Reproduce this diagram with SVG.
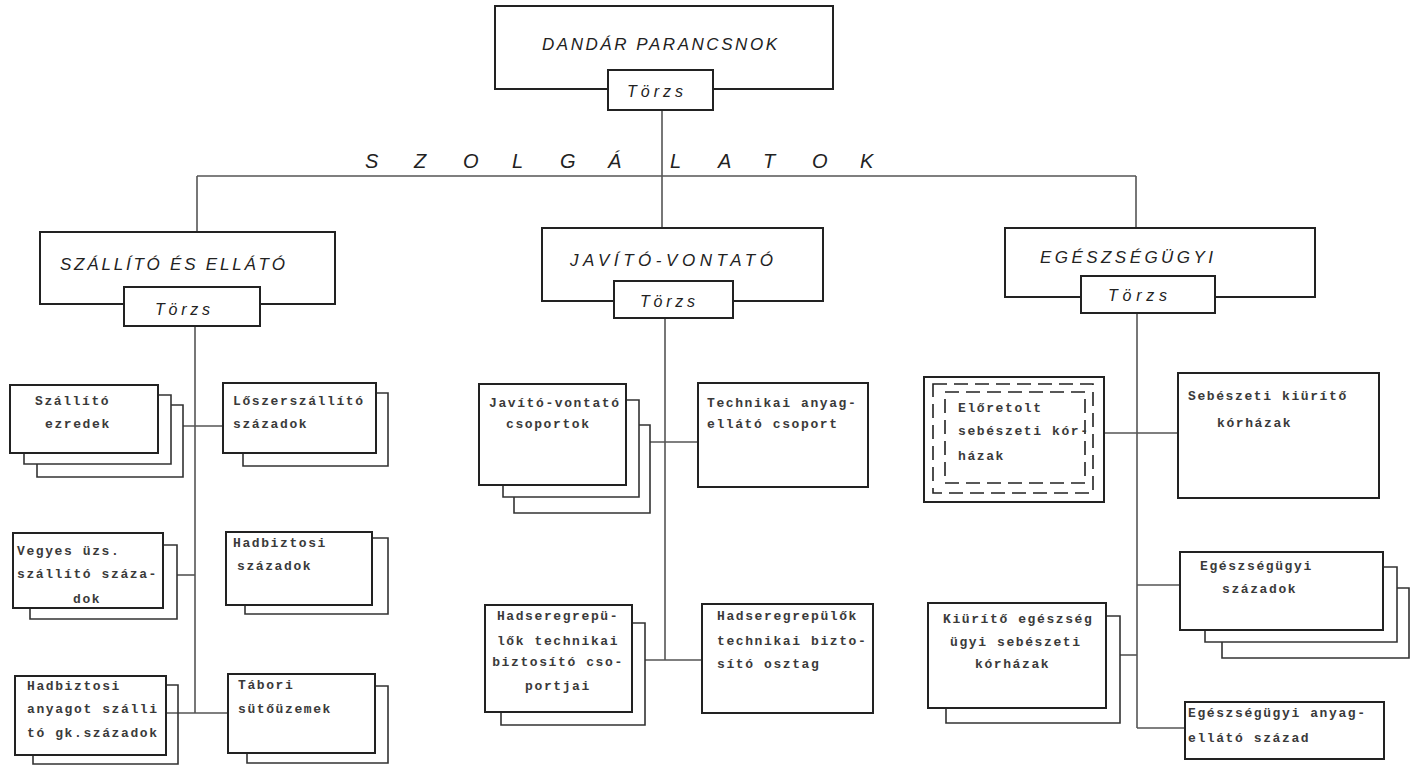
<svg xmlns="http://www.w3.org/2000/svg" width="1411" height="766" viewBox="0 0 1411 766">
<style>
.bg{fill:#fff}
.box{fill:#fff;stroke:#222;stroke-width:2}
.sh{fill:none;stroke:#333;stroke-width:1.6}
.dash{fill:none;stroke:#222;stroke-width:1.6;stroke-dasharray:14 7}
.con{fill:none;stroke:#555;stroke-width:1.6}
.hw{font-family:"Liberation Sans",Arial,sans-serif;font-style:italic;fill:#222}
.tw{font-family:"Liberation Mono","Courier New",monospace;font-size:13px;font-weight:bold;fill:#3a3a3a;letter-spacing:1.6px}
</style>
<rect class="bg" x="0" y="0" width="1411" height="766"/>

<g id="connectors">
  <path class="con" d="M662,110 V228"/>
  <path class="con" d="M197,176 H1136"/>
  <path class="con" d="M197,176 V232"/>
  <path class="con" d="M1136,176 V228"/>
  <path class="con" d="M195,326 V713"/>
  <path class="con" d="M183,426 H223"/>
  <path class="con" d="M177,575 H195"/>
  <path class="con" d="M166,713 H228"/>
  <path class="con" d="M665,318 V660"/>
  <path class="con" d="M650,442 H698"/>
  <path class="con" d="M645,660 H702"/>
  <path class="con" d="M1137,313 V728"/>
  <path class="con" d="M1104,433 H1178"/>
  <path class="con" d="M1137,585 H1180"/>
  <path class="con" d="M1120,655 H1137"/>
  <path class="con" d="M1137,728 H1185"/>
</g>

<text class="hw" font-size="20" y="168" x="365 414 463 512 560 608 670 718 763 812 860">SZOLGÁLATOK</text>

<g id="dandar">
  <rect class="box" x="495" y="6" width="338" height="83"/>
  <text class="hw" font-size="17" x="542" y="50" textLength="235" lengthAdjust="spacing">DANDÁR PARANCSNOK</text>
  <rect class="box" x="608" y="70" width="105" height="40"/>
  <text class="hw" font-size="16" x="627" y="97" textLength="56" lengthAdjust="spacing">Törzs</text>
</g>

<g id="szallito">
  <rect class="box" x="40" y="232" width="295" height="72"/>
  <text class="hw" font-size="17" x="60" y="270" textLength="225" lengthAdjust="spacing">SZÁLLÍTÓ ÉS ELLÁTÓ</text>
  <rect class="box" x="124" y="287" width="136" height="39"/>
  <text class="hw" font-size="16" x="155" y="315" textLength="55" lengthAdjust="spacing">Törzs</text>
</g>

<g id="javito">
  <rect class="box" x="542" y="228" width="281" height="73"/>
  <text class="hw" font-size="17" x="570" y="266" textLength="203" lengthAdjust="spacing">JAVÍTÓ-VONTATÓ</text>
  <rect class="box" x="614" y="281" width="119" height="37"/>
  <text class="hw" font-size="16" x="640" y="307" textLength="55" lengthAdjust="spacing">Törzs</text>
</g>

<g id="egeszsegugyi">
  <rect class="box" x="1005" y="228" width="310" height="69"/>
  <text class="hw" font-size="17" x="1040" y="263" textLength="173" lengthAdjust="spacing">EGÉSZSÉGÜGYI</text>
  <rect class="box" x="1081" y="276" width="134" height="37"/>
  <text class="hw" font-size="16" x="1108" y="301" textLength="59" lengthAdjust="spacing">Törzs</text>
</g>

<g id="szallito-ezredek">
  <path class="sh" d="M37,464 V477 H183 V405 H171"/>
  <path class="sh" d="M24,453 V464 H171 V395 H158"/>
  <rect class="box" x="10" y="385" width="148" height="68"/>
  <text class="tw" x="35" y="405">Szállító</text>
  <text class="tw" x="45" y="428">ezredek</text>
</g>

<g id="loszerszallito">
  <path class="sh" d="M243,453 V466 H388 V393 H376"/>
  <rect class="box" x="223" y="383" width="153" height="70"/>
  <text class="tw" x="233" y="405">Lőszerszállító</text>
  <text class="tw" x="233" y="428">századok</text>
</g>

<g id="vegyes">
  <path class="sh" d="M30,608 V619 H177 V545 H163"/>
  <rect class="box" x="13" y="533" width="150" height="75"/>
  <text class="tw" x="17" y="555">Vegyes üzs.</text>
  <text class="tw" x="17" y="578">szállító száza-</text>
  <text class="tw" x="73" y="603">dok</text>
</g>

<g id="hadbiztosi">
  <path class="sh" d="M245,605 V614 H388 V538 H372"/>
  <rect class="box" x="226" y="532" width="146" height="73"/>
  <text class="tw" x="233" y="547">Hadbiztosi</text>
  <text class="tw" x="237" y="570">századok</text>
</g>

<g id="hadbiztosi-anyag">
  <path class="sh" d="M33,755 V764 H178 V685 H166"/>
  <rect class="box" x="15" y="676" width="151" height="79"/>
  <text class="tw" x="27" y="690">Hadbiztosi</text>
  <text class="tw" x="27" y="713">anyagot szálli</text>
  <text class="tw" x="27" y="737">tó gk.századok</text>
</g>

<g id="tabori">
  <path class="sh" d="M247,753 V763 H388 V686 H375"/>
  <rect class="box" x="228" y="674" width="147" height="79"/>
  <text class="tw" x="238" y="689">Tábori</text>
  <text class="tw" x="238" y="713">sütőüzemek</text>
</g>

<g id="javito-csoportok">
  <path class="sh" d="M514,497 V513 H650 V425 H639"/>
  <path class="sh" d="M503,485 V497 H639 V400 H626"/>
  <rect class="box" x="479" y="384" width="147" height="101"/>
  <text class="tw" x="489" y="407">Javító-vontató</text>
  <text class="tw" x="506" y="428">csoportok</text>
</g>

<g id="technikai">
  <rect class="box" x="698" y="383" width="170" height="104"/>
  <text class="tw" x="707" y="407">Technikai anyag-</text>
  <text class="tw" x="707" y="428">ellátó csoport</text>
</g>

<g id="hadsereg-csoportjai">
  <path class="sh" d="M501,712 V725 H645 V623 H632"/>
  <rect class="box" x="485" y="605" width="147" height="107"/>
  <text class="tw" x="558" y="620" text-anchor="middle">Hadseregrepü-</text>
  <text class="tw" x="558" y="645" text-anchor="middle">lők technikai</text>
  <text class="tw" x="558" y="666" text-anchor="middle">biztosító cso-</text>
  <text class="tw" x="558" y="690" text-anchor="middle">portjai</text>
</g>

<g id="hadsereg-osztag">
  <rect class="box" x="702" y="604" width="171" height="109"/>
  <text class="tw" x="717" y="620">Hadseregrepülők</text>
  <text class="tw" x="717" y="645">technikai bizto-</text>
  <text class="tw" x="717" y="668">sító osztag</text>
</g>

<g id="eloretolt">
  <rect class="box" x="924" y="377" width="180" height="125"/>
  <rect class="dash" x="933" y="384" width="160" height="109"/>
  <rect class="dash" x="945" y="392" width="140" height="91"/>
  <text class="tw" x="958" y="412">Előretolt</text>
  <text class="tw" x="958" y="435">sebészeti kór-</text>
  <text class="tw" x="958" y="460">házak</text>
</g>

<g id="sebeszeti-kiurito">
  <rect class="box" x="1178" y="373" width="201" height="125"/>
  <text class="tw" x="1188" y="400">Sebészeti kiürítő</text>
  <text class="tw" x="1217" y="427">kórházak</text>
</g>

<g id="egeszsegugyi-szazadok">
  <path class="sh" d="M1222,642 V658 H1409 V588 H1397"/>
  <path class="sh" d="M1205,630 V642 H1397 V567 H1383"/>
  <rect class="box" x="1180" y="552" width="203" height="78"/>
  <text class="tw" x="1200" y="570">Egészségügyi</text>
  <text class="tw" x="1222" y="593">századok</text>
</g>

<g id="kiurito">
  <path class="sh" d="M946,708 V723 H1120 V616 H1106"/>
  <rect class="box" x="928" y="603" width="178" height="105"/>
  <text class="tw" x="943" y="623">Kiürítő egészség</text>
  <text class="tw" x="950" y="646">ügyi sebészeti</text>
  <text class="tw" x="975" y="668">kórházak</text>
</g>

<g id="anyagellato">
  <rect class="box" x="1185" y="702" width="199" height="57"/>
  <text class="tw" x="1188" y="717">Egészségügyi anyag-</text>
  <text class="tw" x="1188" y="742">ellátó század</text>
</g>
</svg>
